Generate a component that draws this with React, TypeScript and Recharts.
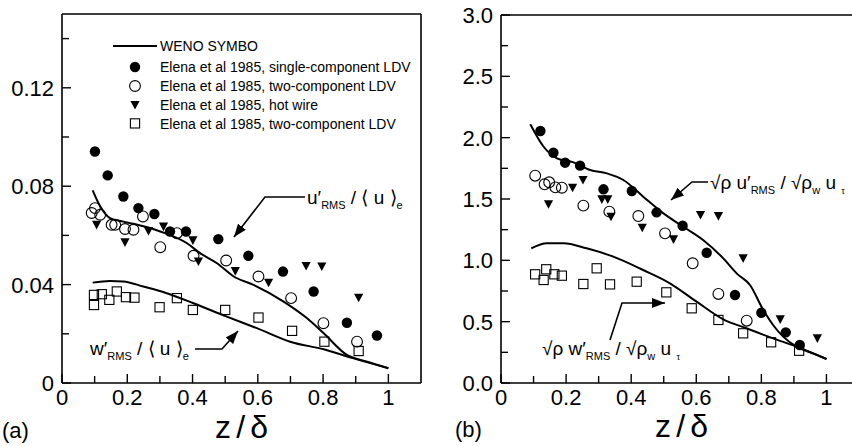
import React from 'react';
import { ComposedChart, Line, Scatter, XAxis, YAxis } from 'recharts';

// ---- data (a): normalised by <u>e ----
const uLineA = [[0.094, 0.0783], [0.117, 0.0718], [0.147, 0.067], [0.188, 0.0656], [0.219, 0.0647], [0.301, 0.0616], [0.382, 0.0569], [0.423, 0.0528], [0.475, 0.0487], [0.526, 0.0433], [0.587, 0.0399], [0.679, 0.0331], [0.751, 0.0263], [0.802, 0.0202], [0.873, 0.0114], [0.935, 0.0087], [1.0, 0.006]];
const wLineA = [[0.094, 0.0408], [0.147, 0.0415], [0.188, 0.0413], [0.249, 0.0392], [0.321, 0.0365], [0.403, 0.0324], [0.505, 0.027], [0.597, 0.0223], [0.699, 0.0168], [0.802, 0.0137], [0.894, 0.01], [1.0, 0.006]];
const singleLdvA = [[0.101, 0.0941], [0.14, 0.0844], [0.188, 0.0758], [0.234, 0.0711], [0.283, 0.0687], [0.331, 0.0616], [0.38, 0.0616], [0.479, 0.0585], [0.571, 0.0517], [0.677, 0.0453], [0.771, 0.0372], [0.873, 0.0245], [0.965, 0.0193]];
const twoLdvA = [[0.091, 0.0691], [0.101, 0.0711], [0.117, 0.0684], [0.152, 0.0643], [0.163, 0.0643], [0.193, 0.0626], [0.219, 0.0623], [0.248, 0.0677], [0.301, 0.0552], [0.352, 0.0609], [0.403, 0.0517], [0.503, 0.0498], [0.602, 0.0433], [0.702, 0.0345], [0.801, 0.0243], [0.904, 0.0168]];
const hotWireA = [[0.106, 0.0643], [0.193, 0.0572], [0.265, 0.0618], [0.311, 0.0636], [0.401, 0.058], [0.418, 0.0494], [0.531, 0.0455], [0.633, 0.0408], [0.748, 0.0476], [0.796, 0.0474], [0.909, 0.0347]];
const wLdvA = [[0.098, 0.0358], [0.098, 0.0317], [0.122, 0.0361], [0.145, 0.0338], [0.168, 0.0372], [0.196, 0.0349], [0.222, 0.0347], [0.299, 0.0308], [0.352, 0.0345], [0.401, 0.0297], [0.5, 0.0297], [0.602, 0.0266], [0.705, 0.0212], [0.804, 0.0168], [0.909, 0.013]];

// ---- data (b): density-weighted, normalised by u_tau ----
const uLineB = [[0.09, 2.109], [0.131, 1.926], [0.172, 1.832], [0.223, 1.799], [0.274, 1.736], [0.325, 1.709], [0.376, 1.655], [0.437, 1.519], [0.499, 1.383], [0.56, 1.274], [0.621, 1.166], [0.683, 1.016], [0.724, 0.894], [0.765, 0.799], [0.806, 0.595], [0.836, 0.473], [0.867, 0.378], [0.908, 0.296], [0.959, 0.242], [1.0, 0.196]];
const wLineB = [[0.093, 1.098], [0.141, 1.139], [0.192, 1.139], [0.263, 1.098], [0.345, 1.03], [0.437, 0.921], [0.519, 0.813], [0.601, 0.663], [0.683, 0.519], [0.754, 0.446], [0.836, 0.364], [0.908, 0.296], [1.0, 0.196]];
const singleLdvB = [[0.121, 2.054], [0.161, 1.877], [0.197, 1.796], [0.243, 1.772], [0.315, 1.579], [0.402, 1.565], [0.478, 1.391], [0.558, 1.282], [0.632, 1.062], [0.719, 0.717], [0.8, 0.573], [0.875, 0.413], [0.918, 0.31]];
const twoLdvB = [[0.105, 1.69], [0.134, 1.62], [0.148, 1.636], [0.167, 1.595], [0.187, 1.592], [0.253, 1.446], [0.333, 1.397], [0.422, 1.361], [0.504, 1.22], [0.589, 0.976], [0.668, 0.726], [0.755, 0.508]];
const hotWireB = [[0.146, 1.457], [0.22, 1.592], [0.252, 1.655], [0.31, 1.497], [0.328, 1.497], [0.338, 1.356], [0.434, 1.266], [0.53, 1.171], [0.613, 1.37], [0.668, 1.361], [0.744, 1.016], [0.858, 0.519], [0.972, 0.364]];
const wLdvB = [[0.105, 0.886], [0.131, 0.84], [0.139, 0.927], [0.164, 0.886], [0.187, 0.875], [0.253, 0.807], [0.294, 0.935], [0.335, 0.804], [0.417, 0.826], [0.508, 0.739], [0.586, 0.609], [0.668, 0.514], [0.744, 0.405], [0.83, 0.332], [0.916, 0.263]];

const xTicks = [0, 0.1, 0.2, 0.3, 0.4, 0.5, 0.6, 0.7, 0.8, 0.9, 1];
const yTicksA = [0, 0.02, 0.04, 0.06, 0.08, 0.1, 0.12, 0.14];
const yTicksB = [0, 0.25, 0.5, 0.75, 1, 1.25, 1.5, 1.75, 2, 2.25, 2.5, 2.75, 3];

const legendItems = [
  'Elena et al 1985, single-component LDV',
  'Elena et al 1985, two-component LDV',
  'Elena et al 1985, hot wire',
  'Elena et al 1985, two-component LDV',
];

const FONT = '"Liberation Sans", Arial, Helvetica, sans-serif';
const pts = (a: number[][]) => a.map(([x, y]) => ({ x, y }));
const onStep = (v: number, step: number) => Math.abs(v / step - Math.round(v / step)) < 1e-6;

// markers
const FilledDot = (p: any) => <circle cx={p.cx} cy={p.cy} r={5.2} fill="#000" />;
const OpenDot = (p: any) => <circle cx={p.cx} cy={p.cy} r={5.4} fill="none" stroke="#000" strokeWidth={1.1} />;
const DownTri = (p: any) => (
  <path d={`M${p.cx - 4.6},${p.cy - 4} L${p.cx + 4.6},${p.cy - 4} L${p.cx},${p.cy + 4.6} Z`} fill="#000" />
);
const OpenSquare = (p: any) => (
  <rect x={p.cx - 4.6} y={p.cy - 4.6} width={9.2} height={9.2} fill="none" stroke="#000" strokeWidth={1.1} />
);

// inward ticks
const bottomTick = (p: any) => {
  const v = p.payload.value;
  const major = onStep(v, 0.2);
  return (
    <g>
      <line x1={p.x} x2={p.x} y1={p.y} y2={p.y - (major ? 9 : 7)} stroke="#000" strokeWidth={1.4} />
      {major && (
        <text x={p.x} y={p.y + 22} textAnchor="middle" fontSize={22} fontFamily={FONT} fill="#000">
          {String(Number(v.toFixed(1)))}
        </text>
      )}
    </g>
  );
};
const topTick = (p: any) => {
  const major = onStep(p.payload.value, 0.2);
  return <line x1={p.x} x2={p.x} y1={p.y} y2={p.y + (major ? 10 : 7)} stroke="#000" strokeWidth={1.4} />;
};
const leftTick = (majorStep: number, fmt: (v: number) => string) => (p: any) => {
  const v = p.payload.value;
  const major = onStep(v, majorStep);
  return (
    <g>
      <line x1={p.x} x2={p.x + (major ? 9 : 7)} y1={p.y} y2={p.y} stroke="#000" strokeWidth={1.4} />
      {major && (
        <text x={p.x - 8} y={p.y + 8} textAnchor="end" fontSize={22} fontFamily={FONT} fill="#000">
          {fmt(v)}
        </text>
      )}
    </g>
  );
};
const rightTick = (majorStep: number) => (p: any) => {
  const major = onStep(p.payload.value, majorStep);
  return <line x1={p.x} x2={p.x - (major ? 9 : 7)} y1={p.y} y2={p.y} stroke="#000" strokeWidth={1.4} />;
};

const axisLine = { stroke: '#000', strokeWidth: 1.6 };

function Panel(props: {
  uLine: number[][]; wLine: number[][]; single: number[][]; two: number[][]; hot: number[][]; wLdv: number[][];
  yDomain: [number, number]; yTicks: number[]; majorStep: number; fmt: (v: number) => string;
  width: number; margin: any; yWidth: number;
}) {
  return (
    <ComposedChart width={props.width} height={446} margin={props.margin}>
      <XAxis xAxisId="b" dataKey="x" type="number" domain={[0, 1.1]} ticks={xTicks} interval={0}
        tick={bottomTick} tickLine={false} tickSize={0} tickMargin={0} height={30} axisLine={axisLine} allowDataOverflow />
      <XAxis xAxisId="t" orientation="top" dataKey="x" type="number" domain={[0, 1.1]} ticks={xTicks} interval={0}
        tick={topTick} tickLine={false} tickSize={0} tickMargin={0} height={1} axisLine={axisLine} />
      <YAxis yAxisId="l" dataKey="y" type="number" domain={props.yDomain} ticks={props.yTicks} interval={0}
        tick={leftTick(props.majorStep, props.fmt)} tickLine={false} tickSize={0} tickMargin={0} width={props.yWidth} axisLine={axisLine} allowDataOverflow />
      <YAxis yAxisId="r" orientation="right" type="number" domain={props.yDomain} ticks={props.yTicks} interval={0}
        tick={rightTick(props.majorStep)} tickLine={false} tickSize={0} tickMargin={0} width={1} axisLine={axisLine} />
      <Line xAxisId="b" yAxisId="l" data={pts(props.uLine)} dataKey="y" type="monotone" stroke="#000" strokeWidth={2} dot={false} isAnimationActive={false} />
      <Line xAxisId="b" yAxisId="l" data={pts(props.wLine)} dataKey="y" type="monotone" stroke="#000" strokeWidth={2} dot={false} isAnimationActive={false} />
      <Scatter xAxisId="b" yAxisId="l" data={pts(props.single)} shape={FilledDot} isAnimationActive={false} />
      <Scatter xAxisId="b" yAxisId="l" data={pts(props.two)} shape={OpenDot} isAnimationActive={false} />
      <Scatter xAxisId="b" yAxisId="l" data={pts(props.hot)} shape={DownTri} isAnimationActive={false} />
      <Scatter xAxisId="b" yAxisId="l" data={pts(props.wLdv)} shape={OpenSquare} isAnimationActive={false} />
    </ComposedChart>
  );
}

const Sub = ({ children, size = 11 }: any) => (
  <tspan fontSize={size} dy={5}>{children}</tspan>
);

export default function App() {
  return (
    <div style={{ position: 'absolute', left: 0, top: 0, width: 852, height: 446, overflow: 'hidden', background: '#fff' }}>
      <div style={{ position: 'absolute', left: 0, top: 0 }}>
        <Panel uLine={uLineA} wLine={wLineA} single={singleLdvA} two={twoLdvA} hot={hotWireA} wLdv={wLdvA}
          yDomain={[0, 0.15]} yTicks={yTicksA} majorStep={0.04} fmt={(v) => String(Number(v.toFixed(2)))}
          width={430} margin={{ top: 13, right: 8, bottom: 33, left: 12 }} yWidth={50} />
      </div>
      <div style={{ position: 'absolute', left: 430, top: 0 }}>
        <Panel uLine={uLineB} wLine={wLineB} single={singleLdvB} two={twoLdvB} hot={hotWireB} wLdv={wLdvB}
          yDomain={[0, 3]} yTicks={yTicksB} majorStep={0.5} fmt={(v) => v.toFixed(1)}
          width={440} margin={{ top: 14, right: 10, bottom: 33, left: 11 }} yWidth={60} />
      </div>
      <svg width={852} height={446} style={{ position: 'absolute', left: 0, top: 0, pointerEvents: 'none' }} fontFamily={FONT}>
        <defs>
          <marker id="ah" markerUnits="userSpaceOnUse" markerWidth={14} markerHeight={10} refX={13} refY={5} orient="auto">
            <path d="M0,0 L13,5 L0,10 Z" fill="#000" />
          </marker>
        </defs>
        {/* legend */}
        <line x1={113} x2={157} y1={46} y2={46} stroke="#000" strokeWidth={1.8} />
        <text x={160} y={51} fontSize={14}>WENO SYMBO</text>
        <circle cx={135} cy={67} r={5.2} fill="#000" />
        <circle cx={135} cy={86} r={5.4} fill="none" stroke="#000" strokeWidth={1.1} />
        <path d="M130.4,101 L139.6,101 L135,109.6 Z" fill="#000" />
        <rect x={130.4} y={118.8} width={9.2} height={9.2} fill="none" stroke="#000" strokeWidth={1.1} />
        {legendItems.map((t, i) => (
          <text key={i} x={160} y={72 + i * 19} fontSize={14}>{t}</text>
        ))}

        {/* annotations (a) */}
        <polyline points="305,197 265,197 234,237" fill="none" stroke="#000" strokeWidth={1.6} markerEnd="url(#ah)" />
        <text x={307} y={204} fontSize={19}>u′<Sub>RMS</Sub><tspan dy={-5}> / ⟨ u ⟩</tspan><Sub>e</Sub></text>
        <polyline points="195,349 222,349 238,331" fill="none" stroke="#000" strokeWidth={1.6} markerEnd="url(#ah)" />
        <text x={90} y={355} fontSize={19}>w′<Sub>RMS</Sub><tspan dy={-5}> / ⟨ u ⟩</tspan><Sub>e</Sub></text>

        {/* annotations (b) */}
        <polyline points="708,182 692,182 671,200" fill="none" stroke="#000" strokeWidth={1.6} markerEnd="url(#ah)" />
        <text x={710} y={189} fontSize={19}>√ρ u′<Sub>RMS</Sub><tspan dy={-5}> / √ρ</tspan><Sub>w</Sub><tspan dy={-5}> u </tspan><Sub size={9}>τ</Sub></text>
        <polyline points="610,340 622,303 665,303" fill="none" stroke="#000" strokeWidth={1.6} markerEnd="url(#ah)" />
        <text x={542} y={355} fontSize={19}>√ρ w′<Sub>RMS</Sub><tspan dy={-5}> / √ρ</tspan><Sub>w</Sub><tspan dy={-5}> u </tspan><Sub size={9}>τ</Sub></text>

        {/* axis titles and panel labels */}
        <text x={215} y={438} fontSize={32} textLength={53} lengthAdjust="spacing">z / δ</text>
        <text x={655} y={437} fontSize={32} textLength={53} lengthAdjust="spacing">z / δ</text>
        <text x={2} y={438} fontSize={22}>(a)</text>
        <text x={455} y={437} fontSize={22}>(b)</text>
      </svg>
    </div>
  );
}
